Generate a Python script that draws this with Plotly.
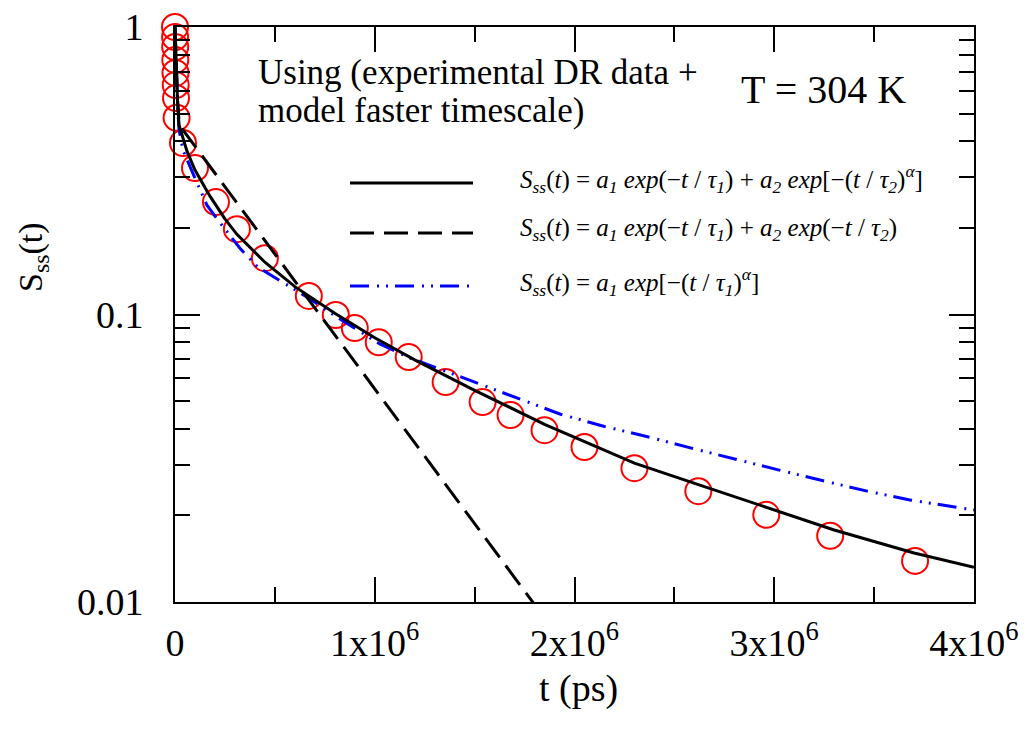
import plotly.graph_objects as go

# Measured solvation correlation S_ss(t) at T = 304 K
t_data = [0, 500, 1000, 1500, 2500, 3500, 5000, 8000,
          4.0e4, 1.0e5, 2.05e5, 3.1e5, 4.5e5, 6.7e5, 8.05e5, 9.0e5, 1.02e6,
          1.17e6, 1.355e6, 1.54e6, 1.68e6, 1.85e6, 2.05e6, 2.3e6, 2.62e6,
          2.96e6, 3.28e6, 3.705e6]
s_data = [1.0, 0.923, 0.852, 0.768, 0.692, 0.628, 0.566, 0.483,
          0.395, 0.323, 0.246, 0.198, 0.157, 0.116, 0.0996, 0.0897, 0.080,
          0.0711, 0.0582, 0.0496, 0.0447, 0.0396, 0.0346, 0.0292, 0.0243,
          0.0201, 0.0170, 0.0139]

# Fit: exponential + stretched exponential (solid)
t_fit1 = [0, 5e3, 1.25e4, 2e4, 3.5e4, 6e4, 1e5, 1.75e5, 2.5e5, 3.1e5, 4.5e5,
          6e5, 8e5, 1.0e6, 1.2e6, 1.5e6, 1.85e6, 2.3e6, 2.65e6, 3.0e6, 3.3e6,
          3.7e6, 4.0e6]
s_fit1 = [1.0, 0.768, 0.557, 0.456, 0.420, 0.37, 0.318, 0.258, 0.215, 0.190,
          0.152, 0.125, 0.101, 0.0830, 0.0695, 0.0545, 0.0415, 0.0304, 0.0252,
          0.0209, 0.0178, 0.0148, 0.0132]

# Fit: bi-exponential (dashed)
t_fit2 = [0, 5e3, 1.25e4, 2e4, 3.5e4, 1.4e5, 5e5, 1.0e6, 1.5e6, 1.8e6]
s_fit2 = [1.0, 0.768, 0.557, 0.47, 0.443, 0.353, 0.162, 0.0551, 0.0187, 0.0098]

# Fit: single stretched exponential (dash-dot-dot)
t_fit3 = [0, 5e3, 1.25e4, 2e4, 4e4, 1e5, 1.6e5, 2.15e5, 3.25e5, 4.15e5, 5.6e5,
          6.7e5, 8.1e5, 1.025e6, 1.165e6, 1.435e6, 1.7e6, 1.93e6, 2.15e6,
          2.33e6, 2.585e6, 2.8e6, 3.03e6, 3.245e6, 3.465e6, 3.685e6, 4.0e6]
s_fit3 = [1.0, 0.75, 0.55, 0.44, 0.373, 0.298, 0.240, 0.213, 0.170, 0.146,
          0.127, 0.114, 0.098, 0.079, 0.0711, 0.0606, 0.0516, 0.045, 0.0408,
          0.0381, 0.0343, 0.0314, 0.0287, 0.0264, 0.0243, 0.0226, 0.0209]

x_ticks = [0, 1e6, 2e6, 3e6, 4e6]
x_ticktext = ["0", "1x10<sup>6</sup>", "2x10<sup>6</sup>",
              "3x10<sup>6</sup>", "4x10<sup>6</sup>"]
y_ticks = [0.01, 0.1, 1]
y_ticktext = ["0.01", "0.1", "1"]

legend_labels = [
    "<i>S<sub>ss</sub></i>(<i>t</i>) = <i>a<sub>1</sub> exp</i>(\u2212<i>t</i> / <i>\u03c4<sub>1</sub></i>) + "
    "<i>a<sub>2</sub> exp</i>[\u2212(<i>t</i> / <i>\u03c4<sub>2</sub></i>)<sup><i>\u03b1</i></sup>]",
    "<i>S<sub>ss</sub></i>(<i>t</i>) = <i>a<sub>1</sub> exp</i>(\u2212<i>t</i> / <i>\u03c4<sub>1</sub></i>) + "
    "<i>a<sub>2</sub> exp</i>(\u2212<i>t</i> / <i>\u03c4<sub>2</sub></i>)",
    "<i>S<sub>ss</sub></i>(<i>t</i>) = <i>a<sub>1</sub> exp</i>[\u2212(<i>t</i> / <i>\u03c4<sub>1</sub></i>)<sup><i>\u03b1</i></sup>]",
]

FONT = "Liberation Serif"
W, H = 1027, 735
ML, MR, MT, MB = 175, 53, 27, 133
PW, PH = W - ML - MR, H - MT - MB


def px(x):
    return (x - ML) / PW


def py(y):
    return (H - MB - y) / PH


solid = dict(color="black", width=3)
dashed = dict(color="black", width=3, dash="24px,10px")
dashdot = dict(color="#0000ff", width=3, dash="19px,8px,2px,7px,2px,7px")

fig = go.Figure()
fig.add_trace(go.Scatter(x=t_data, y=s_data, mode="markers", cliponaxis=False,
                         marker=dict(symbol="circle-open", size=26, color="red",
                                     line=dict(width=2, color="red")),
                         showlegend=False))
fig.add_trace(go.Scatter(x=t_fit3, y=s_fit3, mode="lines", line=dashdot, showlegend=False))
fig.add_trace(go.Scatter(x=t_fit2, y=s_fit2, mode="lines", line=dashed, showlegend=False))
fig.add_trace(go.Scatter(x=t_fit1, y=s_fit1, mode="lines", line=solid, showlegend=False))

# Legend drawn by hand: long line samples next to formulas
legend_rows = [(183, solid), (233, dashed), (286, dashdot)]
for (yy, ln), label in zip(legend_rows, legend_labels):
    fig.add_shape(type="line", xref="paper", yref="paper",
                  x0=px(350), x1=px(473), y0=py(yy), y1=py(yy), line=ln)
    fig.add_annotation(xref="paper", yref="paper", x=px(518), y=py(yy - 4),
                       xanchor="left", yanchor="middle", showarrow=False,
                       text=label, font=dict(family=FONT, size=25, color="black"))

fig.add_annotation(xref="paper", yref="paper", x=px(256), y=py(73),
                   xanchor="left", yanchor="middle", showarrow=False,
                   text="Using (experimental DR data +",
                   font=dict(family=FONT, size=35, color="black"))
fig.add_annotation(xref="paper", yref="paper", x=px(256), y=py(110),
                   xanchor="left", yanchor="middle", showarrow=False,
                   text="model faster timescale)",
                   font=dict(family=FONT, size=35, color="black"))
fig.add_annotation(xref="paper", yref="paper", x=px(739), y=py(90),
                   xanchor="left", yanchor="middle", showarrow=False,
                   text="T = 304 K",
                   font=dict(family=FONT, size=40, color="black"))

# Axis titles
fig.add_annotation(xref="paper", yref="paper", x=px(578), y=py(688),
                   xanchor="center", yanchor="middle", showarrow=False,
                   text="t (ps)", font=dict(family=FONT, size=38, color="black"))
fig.add_annotation(xref="paper", yref="paper", x=px(33), y=py(257),
                   xanchor="center", yanchor="middle", showarrow=False, textangle=-90,
                   text="S<sub>ss</sub>(t)", font=dict(family=FONT, size=34, color="black"))

fig.update_layout(
    width=W, height=H,
    margin=dict(l=ML, r=MR, t=MT, b=MB, autoexpand=False),
    paper_bgcolor="white", plot_bgcolor="white",
    font=dict(family=FONT, size=38, color="black"),
    showlegend=False,
)
fig.update_xaxes(
    range=[0, 4e6], tickmode="array", tickvals=x_ticks, ticktext=x_ticktext,
    ticks="inside", ticklen=25, tickwidth=2, tickcolor="black",
    showline=True, linewidth=2, linecolor="black", mirror="ticks",
    showgrid=False, zeroline=False, ticklabelstandoff=6,
    tickfont=dict(family=FONT, size=38, color="black"),
    minor=dict(tickvals=[0.5e6, 1.5e6, 2.5e6, 3.5e6], ticks="inside",
               ticklen=15, tickwidth=2, tickcolor="black", showgrid=False),
)
fig.update_yaxes(
    type="log", range=[-2, 0], tickmode="array", tickvals=y_ticks, ticktext=y_ticktext,
    ticks="inside", ticklen=25, tickwidth=2, tickcolor="black",
    showline=True, linewidth=2, linecolor="black", mirror="ticks",
    showgrid=False, zeroline=False, ticklabelstandoff=22,
    tickfont=dict(family=FONT, size=38, color="black"),
    minor=dict(tickvals=[0.02, 0.03, 0.04, 0.05, 0.06, 0.07, 0.08, 0.09,
                         0.2, 0.3, 0.4, 0.5, 0.6, 0.7, 0.8, 0.9],
               ticks="inside", ticklen=15, tickwidth=2, tickcolor="black",
               showgrid=False),
)

fig.write_html("out.html")
